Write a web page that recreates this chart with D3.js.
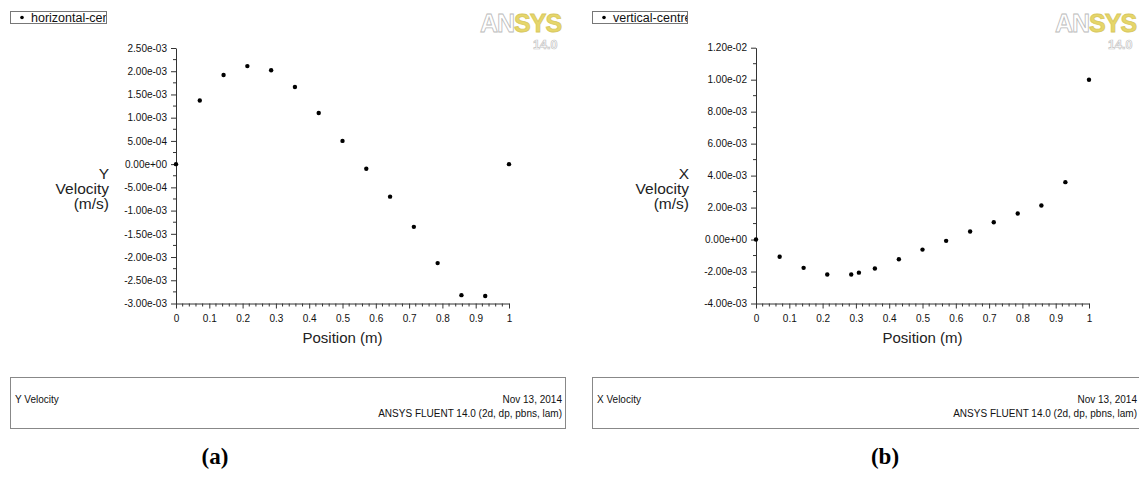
<!DOCTYPE html>
<html>
<head>
<meta charset="utf-8">
<script src="https://cdn.jsdelivr.net/npm/d3@7"></script>
<style>
  body { margin: 0; background: #fff; }
  svg { display: block; font-family: "Liberation Sans", Arial, sans-serif; }
</style>
</head>
<body>
<div id="chart"></div>
<script>
// panel (a): Y velocity along horizontal centre line
var posA = [0, 1/14, 2/14, 3/14, 4/14, 5/14, 6/14, 7/14, 8/14, 9/14, 10/14, 11/14, 12/14, 13/14, 1];
var yVel = [0, 1.37e-3, 1.92e-3, 2.11e-3, 2.02e-3, 1.66e-3, 1.10e-3, 0.50e-3, -0.10e-3,
            -0.70e-3, -1.35e-3, -2.13e-3, -2.82e-3, -2.84e-3, 0];
var yTicksA = [2.5e-3, 2e-3, 1.5e-3, 1e-3, 5e-4, 0, -5e-4, -1e-3, -1.5e-3, -2e-3, -2.5e-3, -3e-3];

// panel (b): X velocity along vertical centre line
var posB = [0, 0.071, 0.143, 0.214, 0.286, 0.309, 0.357, 0.429, 0.5, 0.571, 0.643, 0.714,
            0.786, 0.857, 0.929, 1];
var xVel = [0, -1.08e-3, -1.77e-3, -2.19e-3, -2.19e-3, -2.07e-3, -1.81e-3, -1.23e-3, -0.63e-3,
            -0.08e-3, 0.50e-3, 1.08e-3, 1.63e-3, 2.13e-3, 3.59e-3, 1.0e-2];
var yTicksB = [1.2e-2, 1e-2, 8e-3, 6e-3, 4e-3, 2e-3, 0, -2e-3, -4e-3];

var xTicks = [0, 0.1, 0.2, 0.3, 0.4, 0.5, 0.6, 0.7, 0.8, 0.9, 1];

var svg = d3.select("#chart").append("svg")
  .attr("width", 1139)
  .attr("height", 486);

function fmtExp(v) {
  if (v === 0) return "0.00e+00";
  var s = v.toExponential(2); // e.g. 2.50e-3
  return s.replace(/e([+-])(\d)$/, "e$10$2");
}

function drawPanel(p) {
  var g = svg.append("g");

  var x = d3.scaleLinear().domain([0, 1]).range([p.left, p.right]);
  var y = d3.scaleLinear().domain(p.yDomain).range([p.bottom, p.top]);

  // legend box (text clipped like in fluent)
  var clipId = "clip" + p.id;
  svg.append("clipPath").attr("id", clipId)
    .append("rect").attr("x", p.legX).attr("y", 11).attr("width", p.legW).attr("height", 13);
  g.append("rect")
    .attr("x", p.legX + 0.5).attr("y", 11.5)
    .attr("width", p.legW).attr("height", 12)
    .attr("fill", "#fff").attr("stroke", "#777");
  g.append("circle").attr("cx", p.legX + 12).attr("cy", 17.5).attr("r", 1.8).attr("fill", "#000");
  g.append("text")
    .attr("clip-path", "url(#" + clipId + ")")
    .attr("x", p.legX + 21).attr("y", 22)
    .attr("font-size", 12.5).attr("fill", "#111")
    .text(p.legend);

  // y axis
  var yMinor = [];
  for (var i = 0; i < p.yTicks.length - 1; i++) yMinor.push((p.yTicks[i] + p.yTicks[i + 1]) / 2);
  var yAxis = g.append("g")
    .attr("transform", "translate(" + p.left + ",0)")
    .call(d3.axisLeft(y).tickValues(p.yTicks).tickFormat(fmtExp).tickSize(5).tickPadding(4).tickSizeOuter(0));
  yAxis.append("g").selectAll("line").data(yMinor).enter().append("line")
    .attr("x1", -3).attr("x2", 0)
    .attr("y1", function (d) { return y(d); }).attr("y2", function (d) { return y(d); })
    .attr("stroke", "#333");

  // x axis
  var xMinor = d3.range(0, 1.0001, 0.02).filter(function (d) { return Math.abs(d * 10 - Math.round(d * 10)) > 1e-6; });
  var xAxis = g.append("g")
    .attr("transform", "translate(0," + p.bottom + ")")
    .call(d3.axisBottom(x).tickValues(xTicks).tickFormat(d3.format("")).tickSize(5).tickPadding(6).tickSizeOuter(0));
  xAxis.append("g").selectAll("line").data(xMinor).enter().append("line")
    .attr("x1", function (d) { return x(d); }).attr("x2", function (d) { return x(d); })
    .attr("y1", 0).attr("y2", 3)
    .attr("stroke", "#333");

  [yAxis, xAxis].forEach(function (a) {
    a.selectAll("path,line").attr("stroke", "#333");
    a.selectAll("text").attr("font-size", 10).attr("fill", "#111")
      .attr("font-family", "Liberation Sans, Arial, sans-serif");
  });

  // axis titles
  g.append("text")
    .attr("x", (p.left + p.right) / 2).attr("y", 343)
    .attr("text-anchor", "middle").attr("font-size", 15).attr("fill", "#222")
    .text("Position (m)");
  var yt = g.append("text").attr("text-anchor", "end").attr("font-size", 15.5).attr("fill", "#222");
  p.yTitle.forEach(function (line, k) {
    yt.append("tspan").attr("x", p.yTitleX).attr("y", 179 + k * 15).text(line);
  });

  // points
  g.append("g").selectAll("circle")
    .data(p.xs.map(function (d, k) { return [d, p.ys[k]]; }))
    .enter().append("circle")
    .attr("cx", function (d) { return x(d[0]); })
    .attr("cy", function (d) { return y(d[1]); })
    .attr("r", 2.2)
    .attr("fill", "#000");

  // ansys logo
  var logo = g.append("text")
    .attr("x", p.logoX).attr("y", 32)
    .attr("font-size", 25).attr("font-weight", "bold")
    .attr("stroke-width", 0.8).attr("letter-spacing", -1);
  logo.append("tspan").attr("fill", "#fff").attr("stroke", "#bbb").text("AN");
  logo.append("tspan").attr("fill", "#e6d66a").attr("stroke", "#d8c860").text("SYS");
  g.append("text")
    .attr("x", p.logoX + 53).attr("y", 49)
    .attr("font-size", 12.5).attr("font-weight", "bold")
    .attr("fill", "#fff").attr("stroke", "#c4c4c4").attr("stroke-width", 0.7)
    .text("14.0");

  // footer box
  g.append("rect")
    .attr("x", p.legX + 0.5).attr("y", 377.5)
    .attr("width", p.footW).attr("height", 51)
    .attr("fill", "#fff").attr("stroke", "#888");
  g.append("text").attr("x", p.legX + 5).attr("y", 403)
    .attr("font-size", 10).attr("fill", "#111").text(p.footTitle);
  g.append("text").attr("x", p.footRight).attr("y", 403).attr("text-anchor", "end")
    .attr("font-size", 10).attr("fill", "#111").text("Nov 13, 2014");
  g.append("text").attr("x", p.footRight).attr("y", 417).attr("text-anchor", "end")
    .attr("font-size", 10).attr("fill", "#111").text("ANSYS FLUENT 14.0 (2d, dp, pbns, lam)");

  // sub-figure caption
  g.append("text")
    .attr("x", p.capX).attr("y", 464)
    .attr("text-anchor", "middle")
    .attr("font-family", "Liberation Serif, Times New Roman, serif")
    .attr("font-weight", "bold").attr("font-size", 23)
    .text(p.caption);
}

drawPanel({
  id: "a", left: 176, right: 509, top: 48, bottom: 303.5,
  yDomain: [-3e-3, 2.5e-3], yTicks: yTicksA, xs: posA, ys: yVel,
  legend: "horizontal-centre", legX: 10, legW: 96,
  yTitle: ["Y", "Velocity", "(m/s)"], yTitleX: 109,
  logoX: 480, footW: 555, footRight: 562, footTitle: "Y Velocity",
  caption: "(a)", capX: 215
});

drawPanel({
  id: "b", left: 756, right: 1089, top: 47.7, bottom: 303.5,
  yDomain: [-4e-3, 1.2e-2], yTicks: yTicksB, xs: posB, ys: xVel,
  legend: "vertical-centre", legX: 592, legW: 95,
  yTitle: ["X", "Velocity", "(m/s)"], yTitleX: 689,
  logoX: 1055, footW: 560, footRight: 1137, footTitle: "X Velocity",
  caption: "(b)", capX: 885
});
</script>
</body>
</html>
